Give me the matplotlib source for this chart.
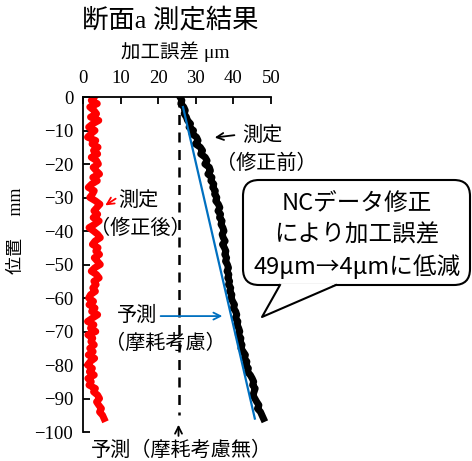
import matplotlib
matplotlib.use("Agg")
import matplotlib.pyplot as plt
from matplotlib.patches import FancyBboxPatch, Polygon
from matplotlib.lines import Line2D
from matplotlib.transforms import IdentityTransform
import numpy as np

JP = ["Liberation Serif", "Noto Sans CJK JP"]
SANS_JP = ["Noto Sans CJK JP", "DejaVu Sans"]

# position (mm), 0 .. -96 in 1 mm steps
position = np.arange(0, -97, -1)

# machining error before NC correction (um)
error_before = [
    25.8, 26.3, 26.0, 26.8, 27.2, 26.9, 27.5, 27.8, 28.6, 28.2, 29.4,
    29.0, 30.2, 30.6, 29.9, 31.2, 31.8, 31.3, 32.5, 33.0, 32.4,
    33.6, 33.9, 33.2, 34.3, 34.0, 34.8, 34.5, 35.2, 35.0, 35.6,
    35.3, 36.0, 36.4, 35.9, 36.6, 36.3, 37.0, 36.7, 37.2, 37.5,
    37.0, 37.3, 37.8, 37.1, 37.6, 38.0, 37.7, 38.2, 37.9, 38.4,
    38.7, 38.3, 38.8, 38.5, 39.0, 38.7, 39.3, 39.0, 39.6, 39.4,
    39.8, 40.3, 40.0, 40.6, 40.9, 40.5, 41.2, 41.0, 41.4, 41.7,
    41.3, 42.0, 41.8, 42.3, 42.0, 42.6, 43.2, 42.9, 43.6, 43.3,
    44.0, 43.7, 44.5, 45.0, 45.4, 45.1, 45.8, 45.5, 45.2, 45.7,
    46.2, 46.8, 46.4, 47.2, 47.6, 48.0,
]

# machining error after NC correction (um)
error_after = [
    3.0, 2.2, 3.8, 1.8, 2.9, 3.6, 2.0, 4.2, 2.6, 1.5, 3.2,
    2.1, 1.2, 3.4, 2.4, 4.0, 2.8, 3.9, 2.2, 3.6, 4.1,
    2.7, 3.5, 4.4, 2.6, 3.8, 2.3, 1.4, 3.0, 2.5, 1.8,
    3.3, 4.5, 3.7, 2.9, 3.9, 2.7, 4.3, 3.1, 1.6, 2.8,
    3.9, 4.6, 3.2, 2.5, 4.0, 3.4, 4.4, 3.0, 3.8, 4.6,
    3.1, 2.2, 3.6, 4.3, 2.9, 3.5, 2.6, 3.3, 2.0, 1.5,
    2.8, 1.6, 3.2, 2.3, 3.9, 2.5, 1.2, 2.9, 2.0, 3.4,
    1.3, 2.6, 2.1, 3.0, 1.8, 2.7, 1.4, 3.1, 1.9, 1.2,
    2.5, 1.7, 3.0, 1.3, 2.2, 1.6, 3.3, 2.8, 3.9, 4.4,
    3.6, 4.2, 4.9, 4.4, 5.2, 5.6,
]

# prediction with tool wear (straight line)
pred_wear_x = [26.6, 45.7]
pred_wear_y = [-3, -96]

# prediction without tool wear
pred_nowear_x = [25.4, 25.4]
pred_nowear_y = [0, -95]

x_ticks = [0, 10, 20, 30, 40, 50]
y_ticks = [0, -10, -20, -30, -40, -50, -60, -70, -80, -90, -100]

W, H = 472, 461
fig = plt.figure(figsize=(W / 100, H / 100), dpi=100)
ax = fig.add_axes([83 / W, 1 - 432 / H, (271 - 83) / W, (432 - 97) / H])


def px(x, y):
    return (x / W, 1 - y / H)


ax.plot(error_after, position, color="#FF0000", lw=5, solid_joinstyle="round")
ax.plot(error_before, position, color="black", lw=5, solid_joinstyle="round")
ax.plot(pred_wear_x, pred_wear_y, color="#0070C0", lw=1.6)
ax.plot(pred_nowear_x, pred_nowear_y, color="black", lw=1.8, ls=(0, (4, 3)))

ax.set_xlim(0, 50)
ax.set_ylim(-100, 0)
ax.xaxis.tick_top()
ax.set_xticks(x_ticks)
ax.set_yticks(y_ticks)
ax.tick_params(direction="in", length=5, width=1.3, labelsize=13.5, pad=7)
for lab in ax.get_xticklabels() + ax.get_yticklabels():
    lab.set_family("Liberation Serif")
for s in ["right", "bottom"]:
    ax.spines[s].set_visible(False)
for s in ["left", "top"]:
    ax.spines[s].set_linewidth(1.3)

# titles / axis labels
fig.text(*px(170, 20), "断面a 測定結果", family=JP, fontsize=19, ha="center", va="center")
fig.text(*px(175, 52), "加工誤差 μm", family=JP, fontsize=14, ha="center", va="center")
fig.text(*px(16, 231), "位置　 mm", family=JP, fontsize=13, ha="center", va="center",
         rotation=90)

# annotations
arr = dict(arrowstyle="->,head_length=0.5,head_width=0.25", lw=1.3)
ax.annotate("", xy=(34.3, -12.2), xytext=(41.0, -11.3),
            arrowprops=dict(arr, color="black"))
ax.annotate("", xy=(5.3, -32.8), xytext=(9.3, -29.9),
            arrowprops=dict(arr, color="#FF0000"))
ax.annotate("", xy=(37.8, -65.4), xytext=(19.9, -65.4),
            arrowprops=dict(arr, color="#0070C0"))
ax.annotate("", xy=(25.4, -97.0), xytext=(25.4, -102.0),
            arrowprops=dict(arr, color="black"), annotation_clip=False)

labels = [
    (262, 135, "測定"), (266, 163, "（修正前）"),
    (138, 200, "測定"), (140, 228, "（修正後）"),
    (137, 315, "予測"), (165, 343, "（摩耗考慮）"),
    (181, 450, "予測（摩耗考慮無）"),
]
for lx, ly, txt in labels:
    fig.text(*px(lx, ly), txt, family=SANS_JP, fontsize=14.5, ha="center", va="center")

# callout box (pixel coords, origin bottom-left)
ident = IdentityTransform()
box = FancyBboxPatch((243, H - 285), 227, 105,
                     boxstyle="round,pad=0,rounding_size=16",
                     transform=ident, facecolor="white", edgecolor="black", lw=1.5,
                     zorder=5)
fig.patches.append(box)
tail = Polygon([(280, H - 284), (262, H - 317), (336, H - 284)], closed=True,
               transform=ident, facecolor="white", edgecolor="none", zorder=6)
fig.patches.append(tail)
fig.lines.append(Line2D([280, 262, 336], [H - 285, H - 317, H - 285], color="black",
                        lw=1.5, transform=ident, zorder=7))
for yy, txt in [(203, "NCデータ修正"), (235, "により加工誤差"), (267, "49μm→4μmに低減")]:
    fig.text(*px(357, yy), txt, family=SANS_JP, fontsize=17, ha="center",
             va="center", zorder=8)

fig.savefig("out.png", dpi=100)
